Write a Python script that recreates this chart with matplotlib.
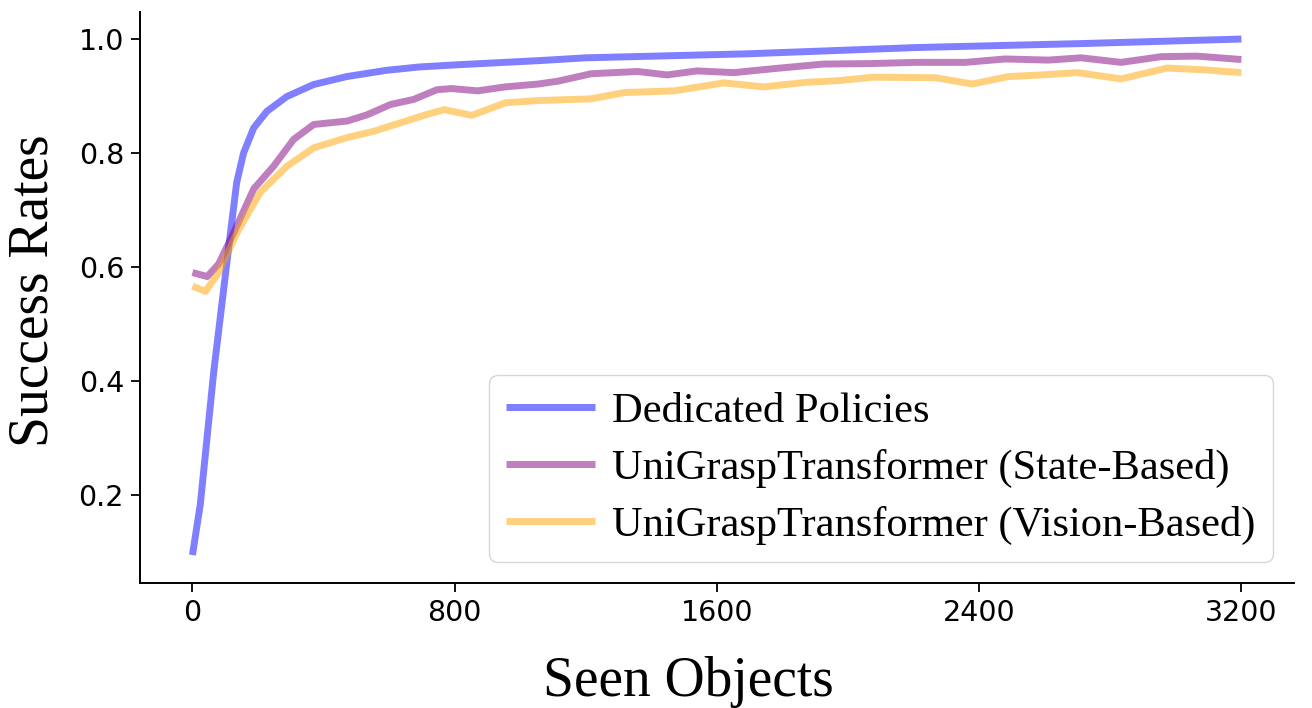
import matplotlib
matplotlib.use("Agg")
import matplotlib.pyplot as plt

# ---- data ----
x_dedicated = [0, 24, 65, 115, 135, 156, 187, 227, 288, 369, 470, 591, 693, 815, 1055, 1200, 1691, 2206, 2711, 3200]
y_dedicated = [0.094, 0.183, 0.416, 0.655, 0.748, 0.800, 0.844, 0.873, 0.899, 0.920, 0.934, 0.945, 0.951, 0.955,
               0.962, 0.967, 0.974, 0.985, 0.992, 1.000]

x_state = [0, 45, 80, 126, 187, 248, 309, 370, 472, 533, 604, 675, 746, 790, 870, 955, 1055, 1115, 1216, 1358,
           1448, 1539, 1652, 1773, 1924, 2076, 2206, 2358, 2479, 2610, 2711, 2833, 2955, 3064, 3200]
y_state = [0.590, 0.583, 0.605, 0.660, 0.737, 0.777, 0.824, 0.850, 0.856, 0.867, 0.885, 0.894, 0.911, 0.913,
           0.909, 0.916, 0.921, 0.926, 0.939, 0.943, 0.937, 0.944, 0.941, 0.948, 0.956, 0.957, 0.959, 0.959,
           0.965, 0.963, 0.967, 0.959, 0.969, 0.970, 0.964]

x_vision = [0, 40, 80, 136, 207, 289, 370, 472, 553, 635, 706, 768, 852, 955, 1055, 1216, 1318, 1470, 1621,
            1742, 1873, 1973, 2076, 2267, 2379, 2489, 2591, 2700, 2833, 2973, 3085, 3200]
y_vision = [0.566, 0.557, 0.590, 0.660, 0.731, 0.777, 0.809, 0.827, 0.838, 0.853, 0.866, 0.876, 0.866, 0.888,
            0.892, 0.895, 0.906, 0.909, 0.923, 0.916, 0.924, 0.927, 0.933, 0.932, 0.921, 0.934, 0.937, 0.941,
            0.930, 0.949, 0.946, 0.941]

labels = ["Dedicated Policies", "UniGraspTransformer (State-Based)", "UniGraspTransformer (Vision-Based)"]
x_ticks = [0, 800, 1600, 2400, 3200]
y_ticks = [0.2, 0.4, 0.6, 0.8, 1.0]

serif = ["Liberation Serif", "DejaVu Serif"]

fig = plt.figure(figsize=(13.12, 7.08), dpi=100)
ax = fig.add_axes([0.1067, 0.1766, 0.8795, 0.8069])

lw = 5
ax.plot(x_dedicated, y_dedicated, color="blue", alpha=0.5, lw=lw, label=labels[0], solid_capstyle="butt")
ax.plot(x_state, y_state, color="purple", alpha=0.5, lw=lw, label=labels[1], solid_capstyle="butt")
ax.plot(x_vision, y_vision, color="orange", alpha=0.5, lw=lw, label=labels[2], solid_capstyle="butt")

ax.set_xlim(-160, 3360)
ax.set_ylim(0.045, 1.048)
ax.set_xticks(x_ticks)
ax.set_yticks(y_ticks)
ax.set_yticklabels([f"{v:.1f}" for v in y_ticks])

for s in ["top", "right"]:
    ax.spines[s].set_visible(False)
for s in ["left", "bottom"]:
    ax.spines[s].set_linewidth(1.4)

ax.tick_params(axis="both", labelsize=20.5, length=6.5, width=1.3, pad=5)

ax.set_xlabel("Seen Objects", fontsize=40, family=serif, labelpad=21)
ax.xaxis.label.set_x(0.475)
ax.set_ylabel("Success Rates", fontsize=40, family=serif, labelpad=14)
ax.yaxis.label.set_y(0.511)

leg = ax.legend(loc="lower right", prop={"family": serif, "size": 30.6}, handlelength=2.1,
                labelspacing=0.42, borderaxespad=0.5, handletextpad=0.4, borderpad=0.4)

fig.savefig("out.png", dpi=100)
